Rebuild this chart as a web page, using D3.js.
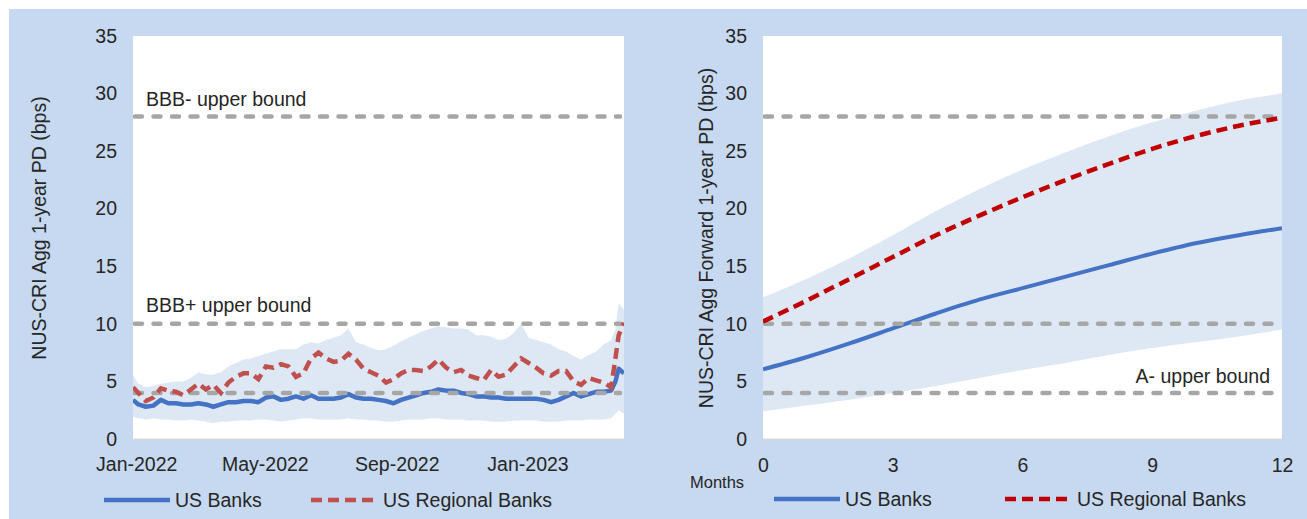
<!DOCTYPE html>
<html>
<head>
<meta charset="utf-8">
<script src="https://cdn.jsdelivr.net/npm/d3@7"></script>
<style>
  body { margin: 0; background: #fff; }
  text { font-family: "Liberation Sans", Arial, sans-serif; fill: #262626; }
</style>
</head>
<body>
<div id="chart"></div>
<script>
const dates = [
  "2021-12-29","2022-01-03","2022-01-10","2022-01-17","2022-01-24","2022-01-31",
  "2022-02-07","2022-02-14","2022-02-21","2022-02-28","2022-03-07","2022-03-14",
  "2022-03-21","2022-03-28","2022-04-04","2022-04-11","2022-04-18","2022-04-25",
  "2022-05-02","2022-05-09","2022-05-16","2022-05-23","2022-05-30","2022-06-06",
  "2022-06-13","2022-06-20","2022-06-27","2022-07-04","2022-07-11","2022-07-18",
  "2022-07-25","2022-08-01","2022-08-08","2022-08-15","2022-08-22","2022-08-29",
  "2022-09-05","2022-09-12","2022-09-19","2022-09-26","2022-10-03","2022-10-10",
  "2022-10-17","2022-10-24","2022-10-31","2022-11-07","2022-11-14","2022-11-21",
  "2022-11-28","2022-12-05","2022-12-12","2022-12-19","2022-12-26","2023-01-02",
  "2023-01-09","2023-01-16","2023-01-23","2023-01-30","2023-02-06","2023-02-13",
  "2023-02-20","2023-02-27","2023-03-06","2023-03-13","2023-03-20","2023-03-24",
  "2023-03-27","2023-04-01"
];
const usBanks = [
  3.4,3.0,2.8,2.9,3.4,3.1, 3.1,3.0,3.0,3.1,3.0,2.8, 3.0,3.2,3.2,3.3,3.3,3.2,
  3.6,3.7,3.4,3.5,3.7,3.5, 3.8,3.5,3.5,3.5,3.6,3.9, 3.6,3.5,3.5,3.4,3.3,3.1,
  3.4,3.6,3.8,4.0,4.1,4.3, 4.2,4.2,4.0,3.9,3.7,3.7, 3.6,3.6,3.5,3.5,3.5,3.5,
  3.5,3.4,3.2,3.4,3.7,4.0, 3.7,3.9,4.1,4.1,4.2,5.0, 6.1,5.7
];
const usRegional = [
  4.5,4.0,3.3,3.6,4.4,4.2, 4.1,3.8,4.3,4.8,4.3,4.7, 4.0,4.9,5.4,5.7,5.7,5.2,
  6.3,6.2,6.5,6.3,5.4,5.7, 7.0,7.5,7.0,6.7,6.8,7.4, 6.9,6.1,5.8,5.5,4.9,5.2,
  5.7,6.0,6.0,5.9,6.3,6.9, 6.2,5.8,6.0,5.5,5.3,5.1, 6.0,5.4,5.6,6.3,7.0,6.6,
  6.2,5.7,5.5,5.9,5.9,5.0, 4.7,5.3,5.1,4.9,4.5,7.0, 9.0,10.1
];
const bandHigh = [
  5.5,4.8,4.5,4.6,4.8,4.9, 5.0,5.0,5.3,5.8,5.6,5.6, 5.8,6.3,6.6,6.9,7.0,7.2,
  7.4,7.6,7.8,7.8,7.8,8.2, 8.4,8.3,8.6,8.8,9.0,9.6, 8.4,8.2,7.9,7.7,7.8,8.1,
  8.5,8.8,9.1,9.4,9.6,9.8, 9.7,9.6,9.6,9.5,9.0,9.0, 8.9,8.6,8.7,9.2,10.0,8.8,
  8.6,8.4,8.2,7.8,7.6,7.2, 6.9,7.3,7.6,8.2,8.6,9.5, 11.8,11.2
];
const bandLow = [
  1.9,1.8,1.7,1.8,1.7,1.7, 1.6,1.6,1.7,1.6,1.5,1.4, 1.5,1.5,1.6,1.6,1.6,1.7,
  1.7,1.6,1.5,1.6,1.7,1.8, 1.8,1.7,1.7,1.7,1.7,1.8, 1.7,1.7,1.6,1.6,1.5,1.5,
  1.6,1.7,1.7,1.7,1.8,1.8, 1.7,1.7,1.7,1.6,1.6,1.6, 1.5,1.5,1.5,1.6,1.6,1.6,
  1.6,1.5,1.5,1.5,1.6,1.6, 1.6,1.7,1.7,1.7,1.8,2.2, 2.5,2.2
];
const leftTicks = ["2022-01-01","2022-05-01","2022-09-01","2023-01-01"];

// ---- data: right panel (forward months) ----
const months = [0,1,2,3,4,5,6,7,8,9,10,11,12];
const fwdBanks    = [6.05,7.1,8.3,9.6,10.9,12.1,13.1,14.1,15.1,16.1,17.0,17.7,18.3];
const fwdRegional = [10.2,12.0,13.9,15.8,17.7,19.4,21.0,22.5,23.9,25.2,26.3,27.2,27.9];
const fwdHigh     = [12.3,13.9,15.7,17.7,19.8,21.7,23.4,24.9,26.3,27.5,28.5,29.4,30.0];
const fwdLow      = [2.4,2.9,3.4,4.0,4.6,5.3,6.0,6.6,7.3,7.9,8.4,8.9,9.5];
const monthTicks = [0,3,6,9,12];

const yTicks = [0,5,10,15,20,25,30,35];
const bounds = [28, 10, 4];

// ---- layout ----
const W = 1307, H = 519;
const FS = 19.5;
const parse = d3.timeParse("%Y-%m-%d");

const svg = d3.select("#chart").append("svg")
  .attr("width", W).attr("height", H);

svg.append("rect").attr("x", 9).attr("y", 9)
  .attr("width", W - 9).attr("height", H - 9)
  .attr("fill", "#C6D9F0");

const plotTop = 36, plotBottom = 439;
const y = d3.scaleLinear().domain([0, 35]).range([plotBottom, plotTop]);

function panel(x0, x1, id) {
  const g = svg.append("g");
  g.append("rect").attr("x", x0).attr("y", plotTop)
    .attr("width", x1 - x0).attr("height", plotBottom - plotTop + 1)
    .attr("fill", "#fff");
  g.append("clipPath").attr("id", id).append("rect")
    .attr("x", x0).attr("y", plotTop - 5)
    .attr("width", x1 - x0).attr("height", plotBottom - plotTop + 5);
  g.append("line").attr("x1", x0).attr("x2", x1)
    .attr("y1", plotBottom + 0.5).attr("y2", plotBottom + 0.5)
    .attr("stroke", "#D9D9D9").attr("stroke-width", 2);

  const yAxis = g.append("g")
    .attr("transform", `translate(${x0},0)`)
    .call(d3.axisLeft(y).tickValues(yTicks).tickSize(0).tickPadding(16));
  yAxis.select(".domain").remove();
  yAxis.selectAll("text").style("font-size", FS + "px")
    .style("font-family", "Liberation Sans, Arial, sans-serif").attr("fill", "#262626");

  const plot = g.append("g").attr("clip-path", `url(#${id})`);
  return { g, plot };
}

function boundLines(plot, x0, x1) {
  plot.selectAll(".bound").data(bounds).enter().append("line")
    .attr("x1", x0 + 2).attr("x2", x1 - 4)
    .attr("y1", d => y(d)).attr("y2", d => y(d))
    .attr("stroke", "#A6A6A6").attr("stroke-width", 4.5)
    .attr("stroke-linecap", "round")
    .attr("stroke-dasharray", "7 11.5");
}

function legend(xLine, xRed, yL, redColor) {
  svg.append("line").attr("x1", xLine).attr("x2", xLine + 66)
    .attr("y1", yL).attr("y2", yL)
    .attr("stroke", "#4472C4").attr("stroke-width", 4.5);
  svg.append("text").attr("x", xLine + 71).attr("y", yL + 7)
    .style("font-size", FS + "px").text("US Banks");
  svg.append("line").attr("x1", xRed).attr("x2", xRed + 67)
    .attr("y1", yL).attr("y2", yL)
    .attr("stroke", redColor).attr("stroke-width", 4.5)
    .attr("stroke-dasharray", "11 6");
  svg.append("text").attr("x", xRed + 72).attr("y", yL + 7)
    .style("font-size", FS + "px").text("US Regional Banks");
}

// ---- left panel ----
const L0 = 133, L1 = 624;
const dd = dates.map(parse);
const xL = d3.scaleTime().domain(d3.extent(dd)).range([L0, L1]);
const left = panel(L0, L1, "clipL");

const xAxisL = left.g.append("g")
  .attr("transform", `translate(0,${plotBottom})`)
  .call(d3.axisBottom(xL).tickValues(leftTicks.map(parse))
    .tickFormat(d3.timeFormat("%b-%Y")).tickSize(0).tickPadding(18));
xAxisL.select(".domain").remove();
xAxisL.selectAll("text").style("font-size", FS + "px")
  .style("font-family", "Liberation Sans, Arial, sans-serif").attr("fill", "#262626");

left.plot.append("path")
  .datum(dd.map((d, i) => [d, bandLow[i], bandHigh[i]]))
  .attr("fill", "#DEE8F5")
  .attr("d", d3.area().x(d => xL(d[0])).y0(d => y(d[1])).y1(d => y(d[2])));
left.plot.append("path")
  .datum(dd.map((d, i) => [d, usBanks[i]]))
  .attr("fill", "none").attr("stroke", "#4472C4").attr("stroke-width", 4.5)
  .attr("stroke-linejoin", "round")
  .attr("d", d3.line().x(d => xL(d[0])).y(d => y(d[1])));
boundLines(left.plot, L0, L1);
left.plot.append("path")
  .datum(dd.map((d, i) => [d, usRegional[i]]))
  .attr("fill", "none").attr("stroke", "#C0504D").attr("stroke-width", 4.5)
  .attr("stroke-dasharray", "11 6")
  .attr("d", d3.line().x(d => xL(d[0])).y(d => y(d[1])));

left.g.append("text").attr("x", 146).attr("y", 106)
  .style("font-size", FS + "px").text("BBB- upper bound");
left.g.append("text").attr("x", 146).attr("y", 312)
  .style("font-size", FS + "px").text("BBB+ upper bound");
left.g.append("text")
  .attr("transform", "translate(46,228) rotate(-90)")
  .attr("text-anchor", "middle")
  .style("font-size", FS + "px")
  .text("NUS-CRI  Agg 1-year PD (bps)");

legend(104, 311, 500, "#C0504D");

// ---- right panel ----
const R0 = 763, R1 = 1282;
const xR = d3.scaleLinear().domain([0, 12]).range([R0, R1]);
const right = panel(R0, R1, "clipR");

const xAxisR = right.g.append("g")
  .attr("transform", `translate(0,${plotBottom})`)
  .call(d3.axisBottom(xR).tickValues(monthTicks).tickSize(0).tickPadding(19));
xAxisR.select(".domain").remove();
xAxisR.selectAll("text").style("font-size", FS + "px")
  .style("font-family", "Liberation Sans, Arial, sans-serif").attr("fill", "#262626");

right.plot.append("path")
  .datum(months.map((m, i) => [m, fwdLow[i], fwdHigh[i]]))
  .attr("fill", "#DEE8F5")
  .attr("d", d3.area().curve(d3.curveMonotoneX)
    .x(d => xR(d[0])).y0(d => y(d[1])).y1(d => y(d[2])));
right.plot.append("path")
  .datum(months.map((m, i) => [m, fwdBanks[i]]))
  .attr("fill", "none").attr("stroke", "#4472C4").attr("stroke-width", 4)
  .attr("d", d3.line().curve(d3.curveMonotoneX).x(d => xR(d[0])).y(d => y(d[1])));
boundLines(right.plot, R0, R1);
right.plot.append("path")
  .datum(months.map((m, i) => [m, fwdRegional[i]]))
  .attr("fill", "none").attr("stroke", "#C00000").attr("stroke-width", 4.5)
  .attr("stroke-dasharray", "11 6")
  .attr("d", d3.line().curve(d3.curveMonotoneX).x(d => xR(d[0])).y(d => y(d[1])));

right.g.append("text").attr("x", 1270).attr("y", 383)
  .attr("text-anchor", "end")
  .style("font-size", FS + "px").text("A- upper bound");
right.g.append("text")
  .attr("transform", "translate(713,238) rotate(-90)")
  .attr("text-anchor", "middle")
  .style("font-size", FS + "px")
  .text("NUS-CRI  Agg Forward 1-year PD (bps)");
right.g.append("text").attr("x", 690).attr("y", 488)
  .style("font-size", "16.5px").text("Months");

legend(774, 1005, 499, "#C00000");
</script>
</body>
</html>
